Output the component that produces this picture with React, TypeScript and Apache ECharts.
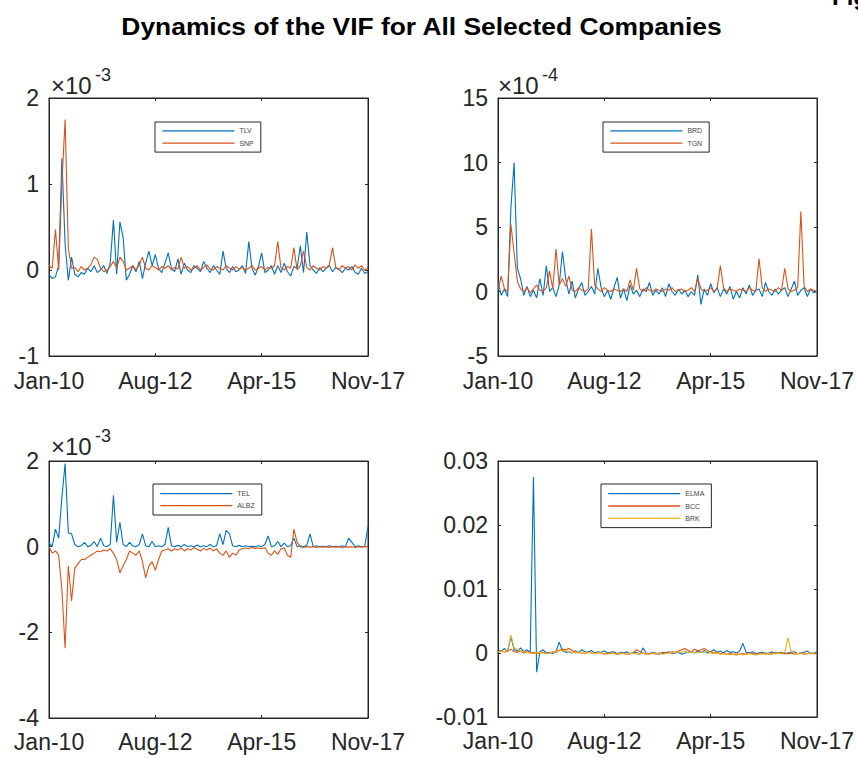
import React, { useEffect, useRef } from "react";
import * as echarts from "echarts";

// Tick labels of the shared time axis (index 0..99 spans Jan-10 .. Nov-17)
const X_LABELS = ["Jan-10", "Aug-12", "Apr-15", "Nov-17"];

// Panel 1 (values in units of 1e-3)
const TLV = [-0.05,-0.1,-0.08,0.05,1.3,0.3,-0.12,0.15,-0.05,-0.08,-0.03,-0.05,0.02,-0.02,0.05,-0.03,0.0,0.05,-0.04,0.08,0.58,-0.05,0.56,0.38,-0.12,-0.05,0.05,-0.02,0.1,-0.1,0.08,0.22,0.05,0.18,0.02,-0.03,0.08,0.2,0.02,-0.02,0.13,-0.05,0.08,0.0,-0.03,0.05,0.02,-0.02,0.1,0.02,-0.03,0.05,0.0,-0.05,0.22,0.02,-0.03,0.04,-0.02,0.0,0.05,-0.04,0.33,0.02,-0.06,0.04,0.2,-0.03,0.0,0.05,-0.05,0.05,-0.03,0.08,-0.02,-0.07,0.04,0.02,0.28,-0.03,0.44,0.05,0.0,-0.04,0.03,-0.02,0.02,0.05,-0.02,0.03,0.01,-0.03,0.02,0.0,0.04,-0.03,-0.05,0.02,-0.04,-0.02];
const SNP = [0.05,0.02,0.47,0.0,1.0,1.75,0.25,0.02,0.03,-0.02,0.04,0.0,0.02,0.06,0.15,0.12,0.02,-0.02,0.0,0.04,0.1,0.02,0.15,0.1,0.0,0.02,0.05,0.0,0.06,0.15,0.02,0.0,0.05,0.03,0.0,0.04,0.02,0.05,0.0,0.03,0.01,0.15,0.02,0.04,0.0,0.02,0.05,0.0,0.03,0.06,0.01,0.0,0.04,0.02,0.0,0.05,0.02,0.0,0.04,0.01,0.03,0.0,0.02,0.05,0.0,0.02,0.04,0.0,0.03,0.02,0.05,0.33,0.02,0.0,0.04,0.02,0.26,0.0,0.05,0.22,0.03,0.0,0.05,0.02,0.0,0.04,0.02,0.06,0.26,0.03,0.0,0.05,0.02,0.04,0.0,0.06,0.02,0.05,0.0,0.02];

// Panel 2 (values in units of 1e-4)
const BRD = [0.8,-0.3,0.2,-0.4,6.5,10.0,1.8,1.0,-0.3,0.4,-0.4,0.1,-0.5,1.0,-0.3,2.0,0.0,0.3,-0.4,0.5,3.1,1.0,-0.2,0.8,-0.5,0.2,0.7,-0.3,0.0,0.4,-0.2,1.8,0.3,-0.4,0.1,-0.6,0.3,1.1,-0.5,0.2,-0.7,0.5,-0.2,0.1,-0.4,0.2,0.0,0.7,-0.3,0.1,-0.2,0.3,-0.4,0.6,0.0,-0.3,0.2,-0.2,0.1,-0.4,0.0,-0.3,1.3,-1.0,0.2,-0.3,0.6,-0.1,0.3,-0.4,0.2,-0.2,0.4,-0.6,0.0,-0.5,0.3,-0.2,0.5,-0.3,0.1,0.2,-0.4,0.7,0.0,-0.3,0.2,-0.2,0.1,0.3,-0.4,0.2,0.8,-0.3,0.1,0.3,-0.4,0.2,-0.1,0.0];
const TGN = [0.1,1.2,0.2,0.0,5.2,3.0,0.8,0.2,0.0,0.3,-0.1,0.2,0.5,0.1,0.0,0.3,1.6,0.2,3.3,0.5,1.0,0.4,1.2,0.1,0.0,0.3,0.1,0.0,0.2,4.85,0.5,0.2,0.0,0.3,0.1,0.0,0.2,0.1,0.0,0.2,0.0,0.9,0.1,1.8,0.2,0.0,0.3,0.1,0.0,0.2,0.1,0.0,0.2,0.1,0.3,0.0,0.1,0.2,0.0,0.1,0.3,0.0,1.0,0.2,0.0,0.1,0.3,0.0,0.2,2.0,0.3,0.0,0.2,0.1,0.0,0.2,0.1,0.0,0.3,0.1,0.0,2.55,0.3,0.0,0.2,0.1,0.0,0.3,0.1,1.8,0.2,0.0,0.1,0.3,6.2,0.4,0.0,0.2,0.1,0.0];

// Panel 3 (values in units of 1e-3)
const TEL = [0.1,0.0,0.41,0.2,1.15,1.94,0.32,0.3,0.05,0.0,0.02,0.1,0.0,0.03,0.12,0.0,0.2,0.02,0.0,0.05,1.2,0.1,0.57,0.05,0.0,0.1,0.02,0.0,0.05,0.3,0.02,0.0,0.12,0.0,0.02,0.0,0.05,0.45,0.02,0.0,0.03,0.0,0.05,0.0,0.02,0.0,0.04,0.0,0.02,0.0,0.05,0.0,0.02,0.3,0.05,0.38,0.3,0.02,0.0,0.03,0.0,0.02,0.0,0.01,0.0,0.02,0.0,0.05,0.25,0.0,0.02,0.12,0.0,0.08,0.0,0.02,0.2,0.0,0.02,0.0,0.03,0.3,0.0,0.02,0.0,0.01,0.0,0.02,0.0,0.01,0.0,0.02,0.0,0.2,0.1,0.0,0.02,0.0,0.01,0.48];
const ALBZ = [0.0,-0.15,-0.1,-0.2,-1.0,-2.37,-0.45,-1.27,-0.5,-0.4,-0.3,-0.3,-0.25,-0.2,-0.15,-0.1,-0.12,-0.08,-0.1,-0.05,-0.15,-0.3,-0.61,-0.45,-0.3,-0.1,-0.15,-0.2,-0.1,-0.35,-0.73,-0.45,-0.35,-0.55,-0.3,-0.1,-0.08,-0.05,-0.1,-0.05,-0.08,-0.03,-0.1,-0.05,-0.08,-0.02,-0.06,-0.1,-0.04,-0.08,-0.03,-0.1,-0.05,-0.15,-0.2,-0.1,-0.25,-0.15,-0.2,-0.08,-0.05,-0.03,-0.05,-0.02,-0.04,-0.03,-0.05,-0.02,-0.15,-0.2,-0.1,-0.18,-0.05,-0.03,-0.2,-0.25,0.41,0.1,0.0,-0.02,0.0,-0.01,0.0,-0.02,0.0,-0.01,0.0,-0.02,0.0,-0.01,0.0,-0.02,0.0,-0.01,0.0,-0.02,0.0,-0.01,0.0,0.0];

// Panel 4 (raw values)
const ELMA = [0.0005,0.0003,0.0007,0.0002,0.0026,0.0005,0.0003,0.0008,0.0002,0.0005,0.0001,0.0275,-0.003,0.0002,0.0005,0.0,0.0001,-0.0001,0.0002,0.0017,0.0003,0.0001,0.0002,0.0,0.0003,0.0001,0.0005,0.0002,0.0001,0.0004,0.0,0.0002,0.0001,0.0003,0.0,0.0001,0.0002,-0.0001,0.0001,0.0,0.0002,-0.0001,0.0,0.0001,-0.0002,0.0008,0.0,-0.0001,0.0001,0.0,-0.0002,0.0001,0.0,0.0002,-0.0001,0.0,0.0001,-0.0002,0.0,0.0001,0.0002,0.0,0.0003,0.0001,0.0004,0.0,0.0002,0.0005,0.0001,0.0003,0.0,0.0004,0.0001,0.0002,0.0,0.0003,0.0015,0.0001,0.0,0.0002,-0.0001,0.0,0.0001,-0.0001,0.0,0.0002,-0.0001,0.0,0.0001,-0.0001,0.0,0.0001,0.0002,-0.0001,0.0,0.0001,0.0003,-0.0001,0.0,0.0001];
const BCC = [0.0002,0.0004,0.0001,0.0003,0.0006,0.0002,0.0001,0.0003,0.0,0.0002,0.0,0.0001,-0.0001,0.0,0.0001,-0.0001,0.0,0.0002,0.0001,0.0004,0.0006,0.0005,0.0007,0.0004,0.0002,0.0001,0.0,-0.0001,0.0002,0.0,-0.0001,0.0001,0.0,-0.0002,0.0,-0.0001,0.0,-0.0002,-0.0001,0.0,-0.0002,-0.0001,0.0001,0.0005,0.0002,0.0,-0.0002,-0.0001,0.0,-0.0002,0.0,-0.0001,0.0001,0.0,0.0002,0.0001,0.0003,0.0005,0.0007,0.0004,0.0002,0.0006,0.0003,0.0005,0.0007,0.0004,0.0002,0.0,0.0001,-0.0001,0.0,-0.0002,-0.0001,-0.0002,-0.0003,-0.0002,-0.0001,-0.0002,0.0,-0.0001,-0.0002,0.0,-0.0001,0.0,-0.0002,-0.0001,0.0001,0.0,-0.0001,0.0,-0.0001,0.0,-0.0002,-0.0001,0.0,-0.0002,-0.0001,0.0,-0.0001,0.0];
const BRK = [0.0001,0.0003,0.0002,0.0004,0.0028,0.0008,0.0006,0.0003,0.0002,0.0001,0.0,-0.0001,0.0,0.0001,0.0,-0.0001,0.0,0.0001,0.0002,0.0005,0.0003,0.0004,0.0002,0.0001,0.0,0.0002,0.0,-0.0001,0.0001,0.0,-0.0001,0.0,0.0001,-0.0001,-0.0002,0.0,-0.0001,-0.0002,0.0,-0.0001,-0.0002,-0.0001,0.0,-0.0002,-0.0001,0.0,-0.0001,-0.0002,0.0,-0.0001,0.0,-0.0002,-0.0001,0.0,0.0001,0.0,0.0002,0.0001,0.0003,0.0,0.0002,0.0001,0.0,0.0002,0.0001,0.0003,0.0,-0.0001,0.0,-0.0002,-0.0001,-0.0002,-0.0003,-0.0002,-0.0001,-0.0002,-0.0003,-0.0002,-0.0001,-0.0002,-0.0003,-0.0002,-0.0001,-0.0002,-0.0001,-0.0002,0.0,-0.0001,0.0,0.0001,0.0024,0.0002,0.0,-0.0001,0.0,-0.0002,-0.0001,0.0,-0.0001,-0.0002];

const BLUE = "#0072BD";
const ORANGE = "#D95319";
const YELLOW = "#EDB120";
const AXIS = "#262626";
const FONT = "Liberation Sans, Arial, Helvetica, sans-serif";

export default function App() {
  const ref = useRef<HTMLDivElement>(null);

  useEffect(() => {
    if (!ref.current) return;
    const chart = echarts.init(ref.current, undefined, { renderer: "svg" });

    const grids = [
      { left: 49, top: 98, width: 319, height: 258 },
      { left: 498, top: 98, width: 319, height: 258 },
      { left: 49, top: 461, width: 319, height: 257 },
      { left: 498, top: 461, width: 319, height: 256 },
    ];
    const yRanges = [
      { min: -1, max: 2, interval: 1 },
      { min: -5, max: 15, interval: 5 },
      { min: -4, max: 2, interval: 2 },
      { min: -0.01, max: 0.03, interval: 0.01 },
    ];
    const xMargins = [15.5, 15.5, 15, 15];

    const xAxis: any[] = [];
    const yAxis: any[] = [];
    grids.forEach((_, p) => {
      xAxis.push({
        type: "value", gridIndex: p, min: 0, max: 99, interval: 33, position: "bottom",
        axisLine: { show: true, onZero: false, lineStyle: { color: AXIS, width: 1 } },
        axisTick: { show: true, inside: true, length: 3, lineStyle: { color: AXIS } },
        splitLine: { show: false },
        axisLabel: {
          fontSize: 23, lineHeight: 18, color: AXIS, fontFamily: FONT, margin: xMargins[p],
          showMinLabel: true, showMaxLabel: true, hideOverlap: false,
          formatter: (v: number) => X_LABELS[Math.round(v / 33)] ?? "",
        },
      });
      xAxis.push({
        type: "value", gridIndex: p, min: 0, max: 99, interval: 33, position: "top",
        axisLine: { show: true, onZero: false, lineStyle: { color: AXIS, width: 1 } },
        axisTick: { show: true, inside: true, length: 3, lineStyle: { color: AXIS } },
        splitLine: { show: false }, axisLabel: { show: false },
      });
      const yr = yRanges[p];
      yAxis.push({
        type: "value", gridIndex: p, min: yr.min, max: yr.max, interval: yr.interval, position: "left",
        axisLine: { show: true, onZero: false, lineStyle: { color: AXIS, width: 1 } },
        axisTick: { show: true, inside: true, length: 3, lineStyle: { color: AXIS } },
        splitLine: { show: false },
        axisLabel: {
          fontSize: 23, lineHeight: 18, color: AXIS, fontFamily: FONT, margin: 10,
          showMinLabel: true, showMaxLabel: true,
          formatter: (v: number) => {
            if (Math.abs(v) < 1e-12) return "0";
            if (p === 3) return v.toFixed(2);
            return String(Math.round(v));
          },
        },
      });
      yAxis.push({
        type: "value", gridIndex: p, min: yr.min, max: yr.max, interval: yr.interval, position: "right",
        axisLine: { show: true, onZero: false, lineStyle: { color: AXIS, width: 1 } },
        axisTick: { show: true, inside: true, length: 3, lineStyle: { color: AXIS } },
        splitLine: { show: false }, axisLabel: { show: false },
      });
    });

    const mk = (name: string, arr: number[], p: number, color: string) => ({
      name, type: "line", xAxisIndex: 2 * p, yAxisIndex: 2 * p,
      data: arr.map((v, i) => [i, v]),
      showSymbol: false, symbol: "none",
      lineStyle: { color, width: 1.1 }, itemStyle: { color },
      emphasis: { disabled: true },
    });

    const series = [
      mk("TLV", TLV, 0, BLUE), mk("SNP", SNP, 0, ORANGE),
      mk("BRD", BRD, 1, BLUE), mk("TGN", TGN, 1, ORANGE),
      mk("TEL", TEL, 2, BLUE), mk("ALBZ", ALBZ, 2, ORANGE),
      mk("ELMA", ELMA, 3, BLUE), mk("BCC", BCC, 3, ORANGE), mk("BRK", BRK, 3, YELLOW),
    ];

    const lg = (data: string[], left: number, top: number, pad: number[], gap: number) => ({
      data, orient: "vertical", left, top, icon: "rect",
      itemWidth: 72, itemHeight: 1.3, itemGap: gap, padding: pad,
      borderColor: AXIS, borderWidth: 1, backgroundColor: "#fff",
      selectedMode: false,
      textStyle: { fontSize: 7, color: "#444", lineHeight: 10, fontFamily: FONT },
    });

    const legend = [
      lg(["TLV", "SNP"], 155, 122, [3.8, 7, 4, 7.4], 2.3),
      lg(["BRD", "TGN"], 603, 122, [3.8, 7, 4, 7.4], 2.3),
      lg(["TEL", "ALBZ"], 153, 484, [4.7, 7, 4.3, 7.3], 2),
      lg(["ELMA", "BCC", "BRK"], 601, 484, [4.7, 7, 4.3, 7.3], 2.3),
    ];

    const expText = (x: number, yBase: number, yExp: number, exp: string) => [
      { type: "text", x, y: yBase, style: { text: "\u00d710", fontSize: 24, fontFamily: FONT, fill: AXIS, textVerticalAlign: "middle", textAlign: "left" } },
      { type: "text", x: x + 44, y: yExp, style: { text: exp, fontSize: 18, fontFamily: FONT, fill: AXIS, textVerticalAlign: "middle", textAlign: "left" } },
    ];

    const graphic = [
      {
        type: "text", x: 421.5, y: 26, scaleX: 1.1,
        style: { text: "Dynamics of the VIF for All Selected Companies", fontSize: 24, fontWeight: "bold", fontFamily: FONT, fill: "#000", textAlign: "center", textVerticalAlign: "middle" },
      },
      {
        type: "text", x: 832, y: -4,
        style: { text: "Fig", fontSize: 24, fontWeight: "bold", fontFamily: FONT, fill: "#000", textAlign: "left", textVerticalAlign: "middle" },
      },
      ...expText(51, 85, 75, "-3"),
      ...expText(498, 85, 75, "-4"),
      ...expText(51, 446, 435.5, "-3"),
    ];

    chart.setOption({
      animation: false,
      backgroundColor: "#fff",
      grid: grids.map((g) => ({ ...g, show: true, borderColor: AXIS, borderWidth: 1, backgroundColor: "#fff", containLabel: false })),
      xAxis, yAxis, series, legend, graphic,
    });

    return () => chart.dispose();
  }, []);

  return (
    <div
      ref={ref}
      style={{ position: "fixed", left: 0, top: 0, width: 858, height: 758, background: "#fff" }}
    />
  );
}
